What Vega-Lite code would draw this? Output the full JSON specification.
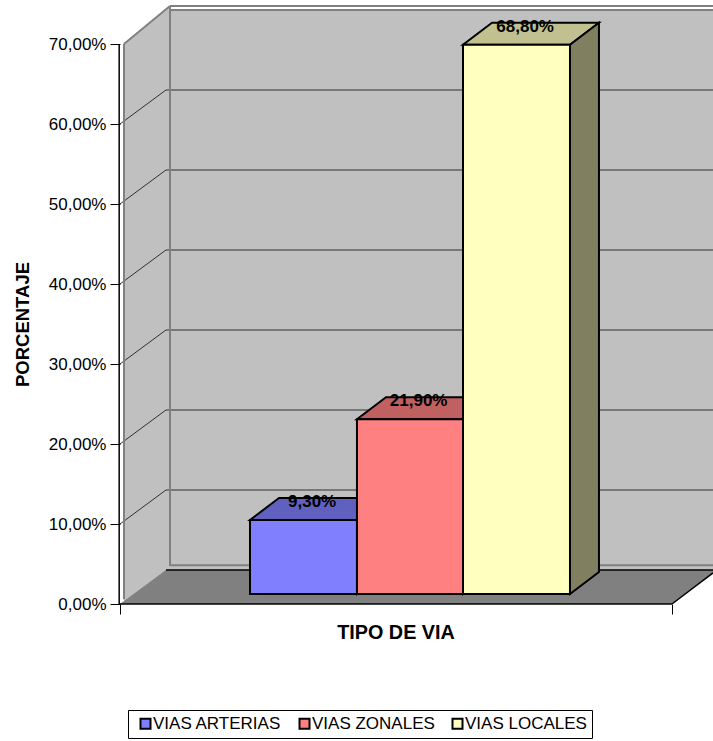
{
"$schema":"https://vega.github.io/schema/vega-lite/v6.json",
"width":593,"height":604,
"autosize":{"type":"none"},
"padding":{"left":120,"top":0,"right":0,"bottom":137},
"background":"#ffffff",
"config":{"font":"Liberation Sans","view":{"stroke":null}},
"datasets":{
"barras":[
{"serie":"VIAS ARTERIAS","valor":9.3,"etiqueta":"9,30%","x0":23.55,"x1":42.93,"centro":34.8,"base":1.25,"tope":10.5},
{"serie":"VIAS ZONALES","valor":21.9,"etiqueta":"21,90%","x0":42.93,"x1":62.14,"centro":54.1,"base":1.25,"tope":23.1},
{"serie":"VIAS LOCALES","valor":68.8,"etiqueta":"68,80%","x0":62.14,"x1":81.52,"centro":73.4,"base":1.25,"tope":69.9}
],
"topes":[
{"serie":"VIAS ARTERIAS","y":10.5,"x":23.55,"x2":42.93},
{"serie":"VIAS ARTERIAS","y":13.25,"x":28.8,"x2":48.18},
{"serie":"VIAS ZONALES","y":23.1,"x":42.93,"x2":62.14},
{"serie":"VIAS ZONALES","y":25.85,"x":48.18,"x2":67.39},
{"serie":"VIAS LOCALES","y":69.9,"x":62.14,"x2":81.52},
{"serie":"VIAS LOCALES","y":72.65,"x":67.39,"x2":86.77}
],
"lados":[
{"serie":"VIAS ARTERIAS","x":42.93,"y":10.5,"y2":1.25},
{"serie":"VIAS ARTERIAS","x":48.18,"y":13.25,"y2":4},
{"serie":"VIAS ZONALES","x":62.14,"y":23.1,"y2":1.25},
{"serie":"VIAS ZONALES","x":67.39,"y":25.85,"y2":4},
{"serie":"VIAS LOCALES","x":81.52,"y":69.9,"y2":1.25},
{"serie":"VIAS LOCALES","x":86.77,"y":72.65,"y2":4}
],
"muroLateral":[
{"x":0.72,"y":70,"y2":0},
{"x":9.06,"y":74.75,"y2":4.25}
],
"piso":[
{"y":0,"x":0,"x2":100},
{"y":4.25,"x":8.33,"x2":108.4}
],
"rejilla":[
{"x":8.33,"x2":107.43,"y":14.25,"y2":14.25},
{"x":8.33,"x2":107.43,"y":24.25,"y2":24.25},
{"x":8.33,"x2":107.43,"y":34.25,"y2":34.25},
{"x":8.33,"x2":107.43,"y":44.25,"y2":44.25},
{"x":8.33,"x2":107.43,"y":54.25,"y2":54.25},
{"x":8.33,"x2":107.43,"y":64.25,"y2":64.25},
{"x":0,"x2":8.33,"y":10,"y2":14.25},
{"x":0,"x2":8.33,"y":20,"y2":24.25},
{"x":0,"x2":8.33,"y":30,"y2":34.25},
{"x":0,"x2":8.33,"y":40,"y2":44.25},
{"x":0,"x2":8.33,"y":50,"y2":54.25},
{"x":0,"x2":8.33,"y":60,"y2":64.25}
],
"bordesGris":[
{"x":0.72,"x2":0.72,"y":70,"y2":0.6},
{"x":0.72,"x2":9.06,"y":70,"y2":74.75},
{"x":9.06,"x2":9.06,"y":74.75,"y2":4.75},
{"x":9.06,"x2":107.43,"y":4.85,"y2":4.85},
{"x":9.06,"x2":107.43,"y":74.75,"y2":74.75},
{"x":9.06,"x2":107.43,"y":74.25,"y2":74.25}
],
"bordesNegro":[
{"x":-0.15,"x2":-0.15,"y":70,"y2":0},
{"x":-0.15,"x2":100,"y":0,"y2":0},
{"x":8.33,"x2":107.43,"y":4.25,"y2":4.25},
{"x":100,"x2":107.43,"y":0,"y2":3.9}
]
},
"layer":[
{"data":{"values":[{"x":9.06,"x2":107.43,"y":4.25,"y2":74.25}]},
 "mark":{"type":"rect","fill":"#C0C0C0","clip":true},
 "encoding":{
  "x":{"field":"x","type":"quantitative","scale":{"domain":[0,107.43],"nice":false,"zero":false},
   "axis":{"values":[0,100],"labels":false,"domain":false,"grid":false,"tickSize":10,"tickColor":"#000000","tickWidth":1,"title":"TIPO DE VIA","titleFont":"Liberation Sans","titleFontSize":19.8,"titleFontWeight":"bold","titleColor":"#000000","titleX":275.5,"titleY":28,"titleAlign":"center","titleBaseline":"middle"}},
  "x2":{"field":"x2"},
  "y":{"field":"y","type":"quantitative","scale":{"domain":[0,75.5],"nice":false,"zero":false},
   "axis":{"values":[0,10,20,30,40,50,60,70],"format":".2f","labelExpr":"replace(datum.label,'.',',')+'%'","domain":false,"grid":false,"tickSize":10,"tickColor":"#000000","tickWidth":1,"labelPadding":4,"labelFont":"Liberation Sans","labelFontSize":17,"labelColor":"#000000","title":"PORCENTAJE","titleFont":"Liberation Sans","titleFontSize":18.5,"titleFontWeight":"bold","titleColor":"#000000","titleX":-98,"titleY":324,"titleAngle":-90,"titleAlign":"center","titleBaseline":"middle"}},
  "y2":{"field":"y2"}
 }},
{"data":{"name":"muroLateral"},
 "mark":{"type":"area","fill":"#C0C0C0","orient":"vertical"},
 "encoding":{"x":{"field":"x","type":"quantitative"},"y":{"field":"y","type":"quantitative"},"y2":{"field":"y2"}}},
{"data":{"name":"rejilla"},
 "mark":{"type":"rule","stroke":"#303030","strokeWidth":1,"clip":true},
 "encoding":{"x":{"field":"x","type":"quantitative"},"x2":{"field":"x2"},"y":{"field":"y","type":"quantitative"},"y2":{"field":"y2"}}},
{"data":{"name":"bordesGris"},
 "mark":{"type":"rule","stroke":"#808080","strokeWidth":2,"clip":true},
 "encoding":{"x":{"field":"x","type":"quantitative"},"x2":{"field":"x2"},"y":{"field":"y","type":"quantitative"},"y2":{"field":"y2"}}},
{"data":{"name":"piso"},
 "mark":{"type":"area","fill":"#808080","orient":"horizontal","clip":true},
 "encoding":{"y":{"field":"y","type":"quantitative"},"x":{"field":"x","type":"quantitative"},"x2":{"field":"x2"}}},
{"data":{"name":"bordesNegro"},
 "mark":{"type":"rule","stroke":"#000000","strokeWidth":1.5,"clip":false},
 "encoding":{"x":{"field":"x","type":"quantitative"},"x2":{"field":"x2"},"y":{"field":"y","type":"quantitative"},"y2":{"field":"y2"}}},
{"data":{"name":"topes"},
 "mark":{"type":"area","orient":"horizontal","stroke":"#000000","strokeWidth":2},
 "encoding":{"y":{"field":"y","type":"quantitative"},"x":{"field":"x","type":"quantitative"},"x2":{"field":"x2"},
  "color":{"field":"serie","type":"nominal","legend":null,"scale":{"domain":["VIAS ARTERIAS","VIAS ZONALES","VIAS LOCALES"],"range":["#6060C0","#C06060","#C0C090"]}}}},
{"data":{"name":"lados"},
 "mark":{"type":"area","orient":"vertical","stroke":"#000000","strokeWidth":2},
 "encoding":{"x":{"field":"x","type":"quantitative"},"y":{"field":"y","type":"quantitative"},"y2":{"field":"y2"},
  "color":{"field":"serie","type":"nominal","legend":null,"scale":{"domain":["VIAS ARTERIAS","VIAS ZONALES","VIAS LOCALES"],"range":["#404080","#804040","#808060"]}}}},
{"data":{"name":"barras"},
 "mark":{"type":"rect","stroke":"#000000","strokeWidth":2},
 "encoding":{"x":{"field":"x0","type":"quantitative"},"x2":{"field":"x1"},"y":{"field":"tope","type":"quantitative"},"y2":{"field":"base"},
  "color":{"field":"serie","type":"nominal","sort":null,"scale":{"domain":["VIAS ARTERIAS","VIAS ZONALES","VIAS LOCALES"],"range":["#8080FF","#FF8080","#FFFFC0"]},
   "legend":{"orient":"none","legendX":8,"legendY":710,"direction":"horizontal","title":null,"symbolType":"square","symbolSize":100,"symbolOffset":4,"symbolStrokeColor":"#000000","symbolStrokeWidth":2,"symbolOpacity":1,"labelFont":"Liberation Sans","labelFontSize":17,"labelColor":"#000000","labelOffset":-1,"labelLimit":200,"columnPadding":10,"padding":5,"fillColor":"#ffffff","strokeColor":"#000000","symbolBaseline":"top","labelBaseline":"middle"}}}},
{"data":{"name":"barras"},
 "mark":{"type":"text","font":"Liberation Sans","fontSize":17,"fontWeight":"bold","color":"#000000","baseline":"middle","align":"center","dy":-18},
 "encoding":{"x":{"field":"centro","type":"quantitative"},"y":{"field":"tope","type":"quantitative"},"text":{"field":"etiqueta","type":"nominal"}}}
],
"resolve":{"scale":{"color":"independent"}}
}
